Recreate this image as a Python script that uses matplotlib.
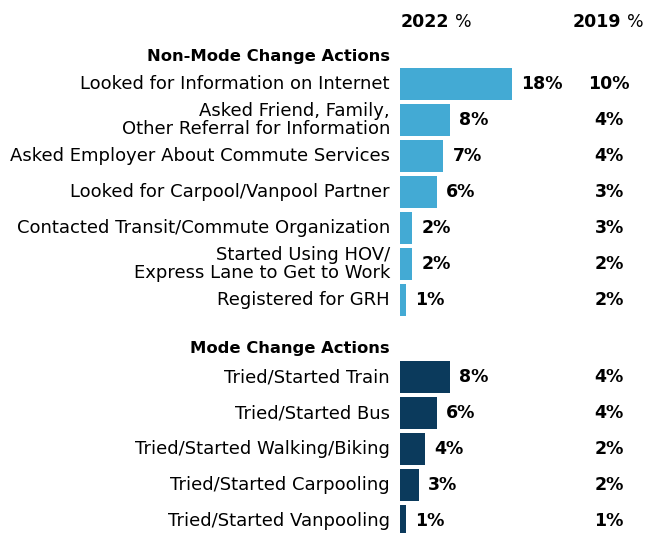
import matplotlib.pyplot as plt

# Share of commuters taking each action, 2022 vs 2019
non_mode_labels = [
    "Looked for Information on Internet",
    "Asked Friend, Family,\nOther Referral for Information",
    "Asked Employer About Commute Services",
    "Looked for Carpool/Vanpool Partner",
    "Contacted Transit/Commute Organization",
    "Started Using HOV/\nExpress Lane to Get to Work",
    "Registered for GRH",
]
non_mode_2022 = [18, 8, 7, 6, 2, 2, 1]
non_mode_2019 = [10, 4, 4, 3, 3, 2, 2]

mode_labels = [
    "Tried/Started Train",
    "Tried/Started Bus",
    "Tried/Started Walking/Biking",
    "Tried/Started Carpooling",
    "Tried/Started Vanpooling",
]
mode_2022 = [8, 6, 4, 3, 1]
mode_2019 = [4, 4, 2, 2, 1]

LIGHT = "#43aad4"
DARK = "#0b3a5c"
FONT = "DejaVu Sans"

W, H = 646, 533
PX = 6.2  # pixels per percentage point
fig = plt.figure(figsize=(W / 100, H / 100), dpi=100)
ax = fig.add_axes([400 / W, 0, (W - 400) / W, 1])
ax.set_xlim(0, (W - 400) / PX)
ax.set_ylim(H, 0)
ax.axis("off")

def px(dx):
    return dx / PX

def draw_group(title, title_y, first_y, labels, v22, v19, color):
    ys = [first_y + 36 * i for i in range(len(labels))]
    ax.barh(ys, v22, height=32, color=color, left=0)
    ax.text(px(-10), title_y, title, ha="right", va="center", fontsize=11.8,
            fontweight="bold", family=FONT, clip_on=False)
    for y, lab, a, b in zip(ys, labels, v22, v19):
        ax.text(px(-10), y, lab, ha="right", va="center", fontsize=13.0,
                family=FONT, linespacing=1.0, clip_on=False)
        ax.text(a + px(9), y, f"{a}%", ha="left", va="center", fontsize=12.5,
                fontweight="bold", family=FONT)
        ax.text(px(209), y, f"{b}%", ha="center", va="center", fontsize=12.5,
                fontweight="bold", family=FONT)

draw_group("Non-Mode Change Actions", 57, 84, non_mode_labels,
           non_mode_2022, non_mode_2019, LIGHT)
draw_group("Mode Change Actions", 349, 377, mode_labels,
           mode_2022, mode_2019, DARK)

# column headers: bold year, regular percent sign
for x0, year in [(1, "2022"), (173, "2019")]:
    t = ax.text(px(x0), 22, year, ha="left", va="center", fontsize=12.5,
                fontweight="bold", family=FONT)
    ax.annotate("%", xycoords=t, xy=(1, 0.5), xytext=(4, 0),
                textcoords="offset points", va="center", ha="left",
                fontsize=12.5, family=FONT)

fig.savefig("out.png", dpi=100)
